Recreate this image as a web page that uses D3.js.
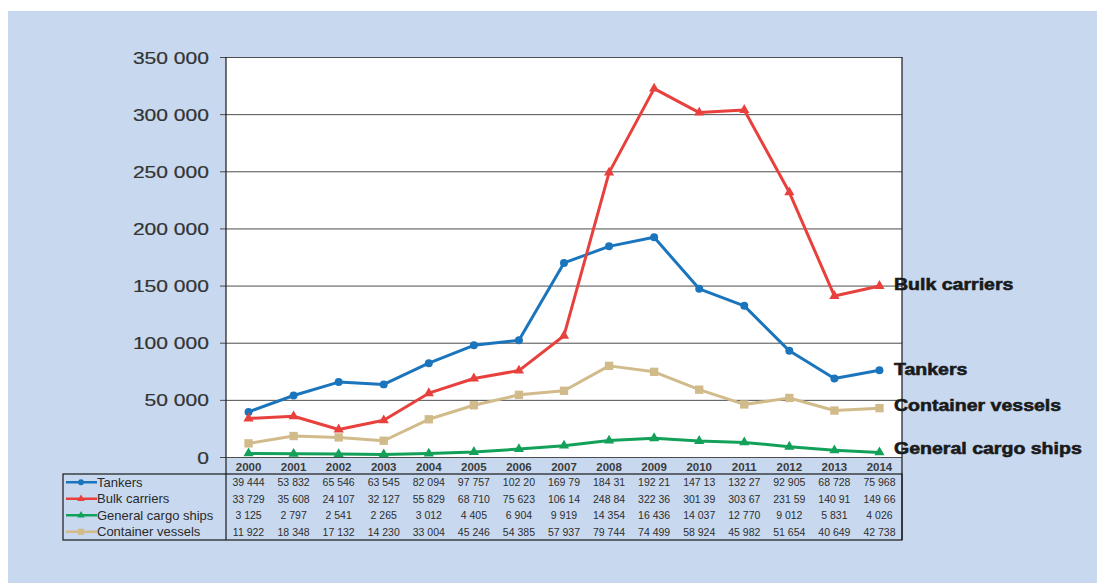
<!DOCTYPE html>
<html>
<head>
<meta charset="utf-8">
<script src="https://cdn.jsdelivr.net/npm/d3@7"></script>
<style>
  body { margin: 0; background: #ffffff; }
  svg { display: block; }
  text { font-family: "Liberation Sans", Arial, Helvetica, sans-serif; }
</style>
</head>
<body>
<svg id="chart" width="1097" height="583"></svg>
<script>
// Fleet size by ship type, 2000-2014
const years = ["2000","2001","2002","2003","2004","2005","2006","2007","2008","2009","2010","2011","2012","2013","2014"];
const tankers = [39444, 53832, 65546, 63545, 82094, 97757, 102200, 169790, 184310, 192210, 147130, 132270, 92905, 68728, 75968];
const bulkCarriers = [33729, 35608, 24107, 32127, 55829, 68710, 75623, 106140, 248840, 322360, 301390, 303670, 231590, 140910, 149660];
const generalCargo = [3125, 2797, 2541, 2265, 3012, 4405, 6904, 9919, 14354, 16436, 14037, 12770, 9012, 5831, 4026];
const containerVessels = [11922, 18348, 17132, 14230, 33004, 45246, 54385, 57937, 79744, 74499, 58924, 45982, 51654, 40649, 42738];
const seriesNames = ["Tankers", "Bulk carriers", "General cargo ships", "Container vessels"];
const yTicks = [0, 50000, 100000, 150000, 200000, 250000, 300000, 350000];

const series = [
  { name: seriesNames[0], values: tankers,          color: "#1b75bc", symbol: d3.symbolCircle,   size: 50 },
  { name: seriesNames[1], values: bulkCarriers,     color: "#e8413d", symbol: d3.symbolTriangle, size: 45 },
  { name: seriesNames[2], values: generalCargo,     color: "#13a15a", symbol: d3.symbolTriangle, size: 45 },
  { name: seriesNames[3], values: containerVessels, color: "#d2bb8b", symbol: d3.symbolSquare,   size: 70 }
];

const svg = d3.select("#chart");
const plotLeft = 226, plotRight = 902, plotTop = 57, plotBottom = 457;
const tableTop = 474, tableBottom = 540, tableLeft = 63;

// page background panel
svg.append("rect")
  .attr("x", 8).attr("y", 11).attr("width", 1097 - 8).attr("height", 583 - 11)
  .attr("fill", "#c7d8ef");

const x = d3.scaleBand().domain(years).range([plotLeft, plotRight]);
const y = d3.scaleLinear().domain([0, 350000]).range([plotBottom, plotTop]);
const cx = d => x(d) + x.bandwidth() / 2;

// plot area
svg.append("rect")
  .attr("x", plotLeft).attr("y", plotTop)
  .attr("width", plotRight - plotLeft).attr("height", plotBottom - plotTop)
  .attr("fill", "#ffffff");

// horizontal gridlines
const grid = svg.append("g")
  .attr("transform", `translate(${plotLeft},0)`)
  .call(d3.axisLeft(y).tickValues(yTicks).tickSize(-(plotRight - plotLeft)).tickFormat(""));
grid.select(".domain").remove();
grid.selectAll("line").attr("stroke", "#4d4d4d").attr("stroke-width", 1);

// y axis labels
const fmt = v => d3.format(",")(v).replace(/,/g, " ");
const yAxis = svg.append("g")
  .attr("transform", `translate(${plotLeft},0)`)
  .call(d3.axisLeft(y).tickValues(yTicks).tickSize(6).tickFormat(fmt));
yAxis.select(".domain").remove();
yAxis.selectAll("line").attr("stroke", "#4d4d4d");
yAxis.selectAll("text")
  .attr("x", null)
  .attr("dy", "0.36em")
  .attr("transform", "translate(-17,0) scale(1.24,1)")
  .attr("font-size", 17)
  .attr("fill", "#333333")
  .attr("stroke", "#333333")
  .attr("stroke-width", 0.2)
  .attr("font-family", null);

// frame lines: left axis, right border, table box
const frame = svg.append("g").attr("stroke", "#1a1a1a").attr("stroke-width", 1.2).attr("fill", "none");
frame.append("line").attr("x1", plotLeft).attr("x2", plotLeft).attr("y1", plotTop).attr("y2", tableBottom);
frame.append("line").attr("x1", plotRight).attr("x2", plotRight).attr("y1", plotTop).attr("y2", tableBottom);
frame.append("rect").attr("x", tableLeft).attr("y", tableTop)
  .attr("width", plotRight - tableLeft).attr("height", tableBottom - tableTop);

// lines and markers
const line = d3.line().x((d, i) => cx(years[i])).y(d => y(d));
series.forEach(s => {
  svg.append("path")
    .datum(s.values)
    .attr("d", line)
    .attr("fill", "none")
    .attr("stroke", s.color)
    .attr("stroke-width", 3)
    .attr("stroke-linejoin", "round");
  svg.append("g").selectAll("path")
    .data(s.values)
    .join("path")
    .attr("transform", (d, i) => `translate(${cx(years[i])},${y(d)})`)
    .attr("d", d3.symbol().type(s.symbol).size(s.size))
    .attr("fill", s.color);
});

// end-of-line labels
const endOffsets = [5, 4, 2, 3];
series.forEach((s, k) => {
  const last = s.values[s.values.length - 1];
  svg.append("text")
    .attr("transform", `translate(894,${y(last) + endOffsets[k]}) scale(1.15,1)`)
    .attr("font-size", 17)
    .attr("font-weight", "bold")
    .attr("fill", "#1a1a1a")
    .attr("stroke", "#1a1a1a")
    .attr("stroke-width", 0.6)
    .text(s.name);
});

// data table: year header
svg.append("g").selectAll("text")
  .data(years)
  .join("text")
  .attr("x", d => cx(d))
  .attr("y", 471)
  .attr("text-anchor", "middle")
  .attr("font-size", 11.5)
  .attr("font-weight", "bold")
  .attr("fill", "#3c3c3c")
  .text(d => d);

// data table rows
const rowH = (tableBottom - tableTop) / series.length;
const cellText = v => fmt(v).slice(0, 6);
series.forEach((s, r) => {
  const rowY = tableTop + rowH * r + rowH / 2;
  // legend key
  svg.append("line")
    .attr("x1", 66).attr("x2", 97).attr("y1", rowY).attr("y2", rowY)
    .attr("stroke", s.color).attr("stroke-width", 2.5);
  svg.append("path")
    .attr("transform", `translate(81,${rowY})`)
    .attr("d", d3.symbol().type(s.symbol).size(s.size * 0.55))
    .attr("fill", s.color);
  svg.append("text")
    .attr("x", 97).attr("y", rowY + 4.5)
    .attr("font-size", 13)
    .attr("fill", "#2a2a2a")
    .text(s.name);
  svg.append("g").selectAll("text")
    .data(s.values)
    .join("text")
    .attr("x", (d, i) => cx(years[i]))
    .attr("y", rowY + 3.8)
    .attr("text-anchor", "middle")
    .attr("font-size", 10.5)
    .attr("fill", "#2e2e2e")
    .text(d => cellText(d));
});
</script>
</body>
</html>
